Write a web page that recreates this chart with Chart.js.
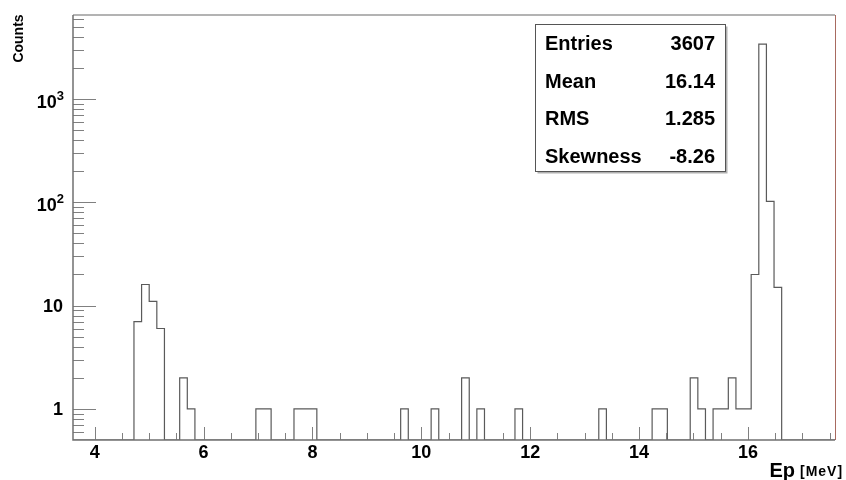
<!DOCTYPE html>
<html>
<head>
<meta charset="utf-8">
<script src="https://cdn.jsdelivr.net/npm/chart.js@4"></script>
<style>
  html, body { margin: 0; padding: 0; background: #fff; }
  canvas { display: block; }
</style>
</head>
<body>
<canvas id="histo" width="846" height="480"></canvas>
<script>
// histogram Ep : 100 bins from 3.6 to 17.6 MeV (only the filled bins listed)
const xMin = 3.6;
const xMax = 17.6;
const binWidth = 0.14;
const yMin = 0.5;
const yMax = 6500;

// low edge of each non-empty bin (MeV)
const binLowEdges = [4.72, 4.86, 5.00, 5.14, 5.56, 5.70, 6.96, 7.10, 7.66, 7.80,
  7.94, 9.62, 10.18, 10.74, 11.02, 11.72, 13.26, 14.24, 14.38, 14.94,
  15.08, 15.36, 15.50, 15.64, 15.78, 15.92, 16.06, 16.20, 16.34, 16.48];
const counts = [7, 16, 11, 6, 2, 1, 1, 1, 1, 1,
  1, 1, 1, 2, 1, 1, 1, 1, 1, 2,
  1, 1, 1, 2, 1, 1, 20, 3400, 102, 15];

const xTickValues = [4, 6, 8, 10, 12, 14, 16];
const yTickValues = [1, 10, 100, 1000];
// libellés y : base + exposant (10^2, 10^3 comme ROOT)
const yTickBase = ['1', '10', '10', '10'];
const yTickExp = ['', '', '2', '3'];

const statLabels = ['Entries', 'Mean', 'RMS', 'Skewness'];
const statValues = ['3607', '16.14', '1.285', '-8.26'];

const FONT = '"Liberation Sans", Arial, sans-serif';

// construire la ligne en escalier (bins vides posés sur le bas de l'axe)
const nBins = Math.round((xMax - xMin) / binWidth);
const stepPoints = [];
for (let k = 0; k < nBins; k++) {
  const low = xMin + k * binWidth;
  const idx = binLowEdges.findIndex(e => Math.round((e - xMin) / binWidth) === k);
  const v = idx >= 0 ? counts[idx] : 0;
  stepPoints.push({ x: low, y: v > 0 ? v : yMin });
}
stepPoints.push({ x: xMax, y: stepPoints[stepPoints.length - 1].y });

// cadre, graduations ROOT, libellés y, boite de stats, titres
const rootStyle = {
  id: 'rootStyle',
  afterDatasetsDraw(chart) {
    const { ctx, chartArea: a, scales } = chart;
    const xs = scales.x, ys = scales.y;
    ctx.save();

    // graduations
    ctx.strokeStyle = '#808080';
    ctx.lineWidth = 1;
    ctx.beginPath();
    for (let v = 4; v <= xMax; v += 0.5) {
      const px = Math.round(xs.getPixelForValue(v)) + 0.5;
      const len = xTickValues.includes(v) ? 13 : 7;
      ctx.moveTo(px, a.bottom);
      ctx.lineTo(px, a.bottom - len);
    }
    for (let dec = 0.1; dec <= yMax; dec *= 10) {
      for (let m = 1; m <= 9; m++) {
        const v = dec * m;
        if (v <= yMin || v >= yMax) continue;
        const py = Math.round(ys.getPixelForValue(v)) + 0.5;
        const len = m === 1 ? 23 : 11;
        ctx.moveTo(a.left, py);
        ctx.lineTo(a.left + len, py);
      }
    }
    ctx.stroke();

    // cadre
    ctx.lineWidth = 1.5;
    ctx.strokeStyle = '#9a9a9a';
    ctx.beginPath();
    ctx.moveTo(a.left, a.top);
    ctx.lineTo(a.right, a.top);
    ctx.stroke();
    ctx.strokeStyle = '#707070';
    ctx.beginPath();
    ctx.moveTo(a.left, a.top);
    ctx.lineTo(a.left, a.bottom);
    ctx.lineTo(a.right, a.bottom);
    ctx.stroke();
    ctx.lineWidth = 1;
    ctx.strokeStyle = '#a86a60';
    ctx.beginPath();
    ctx.moveTo(a.right + 0.5, a.top);
    ctx.lineTo(a.right + 0.5, a.bottom);
    ctx.stroke();

    // libellés de l'axe y
    ctx.fillStyle = '#000';
    ctx.textBaseline = 'middle';
    yTickValues.forEach((v, i) => {
      const py = ys.getPixelForValue(v);
      const right = a.left - 9;
      if (yTickExp[i]) {
        ctx.font = 'bold 13px ' + FONT;
        ctx.textAlign = 'right';
        ctx.fillText(yTickExp[i], right, py - 3);
        const ew = ctx.measureText(yTickExp[i]).width;
        ctx.font = 'bold 18px ' + FONT;
        ctx.fillText(yTickBase[i], right - ew, py + 4);
      } else {
        ctx.font = 'bold 18px ' + FONT;
        ctx.textAlign = 'right';
        ctx.fillText(yTickBase[i], right - 1, py + 1);
      }
    });

    // boite de stats
    const bx = 535.5, by = 24.5, bw = 190, bh = 147;
    ctx.fillStyle = '#b0b0b0';
    ctx.fillRect(bx + 2, by + 2, bw, bh);
    ctx.fillStyle = '#fff';
    ctx.fillRect(bx, by, bw, bh);
    ctx.strokeStyle = '#555';
    ctx.lineWidth = 1;
    ctx.strokeRect(bx, by, bw, bh);
    ctx.fillStyle = '#000';
    ctx.font = 'bold 20px ' + FONT;
    ctx.textBaseline = 'alphabetic';
    statLabels.forEach((lab, i) => {
      const base = 50 + i * 37.5;
      ctx.textAlign = 'left';
      ctx.fillText(lab, 545, base);
      ctx.textAlign = 'right';
      ctx.fillText(statValues[i], 715, base);
    });

    // titres des axes
    ctx.textAlign = 'right';
    ctx.font = 'bold 20px ' + FONT;
    ctx.fillText('Ep', 795, 477);
    ctx.textAlign = 'left';
    ctx.font = 'bold 14px ' + FONT;
    ctx.letterSpacing = '1px';
    ctx.fillText('[MeV]', 800, 476);
    ctx.letterSpacing = '0px';

    ctx.translate(22.5, 38.5);
    ctx.rotate(-Math.PI / 2);
    ctx.textAlign = 'center';
    ctx.font = 'bold 14px ' + FONT;
    ctx.fillText('Counts', 0, 0);
    ctx.restore();
  }
};

new Chart(document.getElementById('histo').getContext('2d'), {
  type: 'line',
  data: {
    datasets: [{
      label: 'Ep',
      data: stepPoints,
      stepped: true,
      borderColor: '#5a5a5a',
      borderWidth: 1.2,
      pointRadius: 0,
      fill: false,
      tension: 0
    }]
  },
  options: {
    responsive: false,
    animation: false,
    layout: { padding: { left: 0, right: 11, top: 15, bottom: 0 } },
    plugins: {
      legend: { display: false },
      tooltip: { enabled: false }
    },
    scales: {
      x: {
        type: 'linear',
        min: xMin,
        max: xMax,
        afterBuildTicks: (scale) => {
          scale.ticks = xTickValues.map(v => ({ value: v }));
        },
        afterFit: (scale) => { scale.height = 40; },
        grid: { display: false, drawTicks: false },
        border: { display: false },
        ticks: {
          padding: 2,
          maxRotation: 0,
          autoSkip: false,
          color: '#000',
          font: { family: FONT, size: 18, weight: 'bold' },
          callback: (v) => String(v)
        }
      },
      y: {
        type: 'logarithmic',
        min: yMin,
        max: yMax,
        afterBuildTicks: (scale) => {
          scale.ticks = yTickValues.map(v => ({ value: v }));
        },
        afterFit: (scale) => { scale.width = 73; },
        grid: { display: false, drawTicks: false },
        border: { display: false },
        ticks: { display: false }
      }
    }
  },
  plugins: [rootStyle]
});
</script>
</body>
</html>
